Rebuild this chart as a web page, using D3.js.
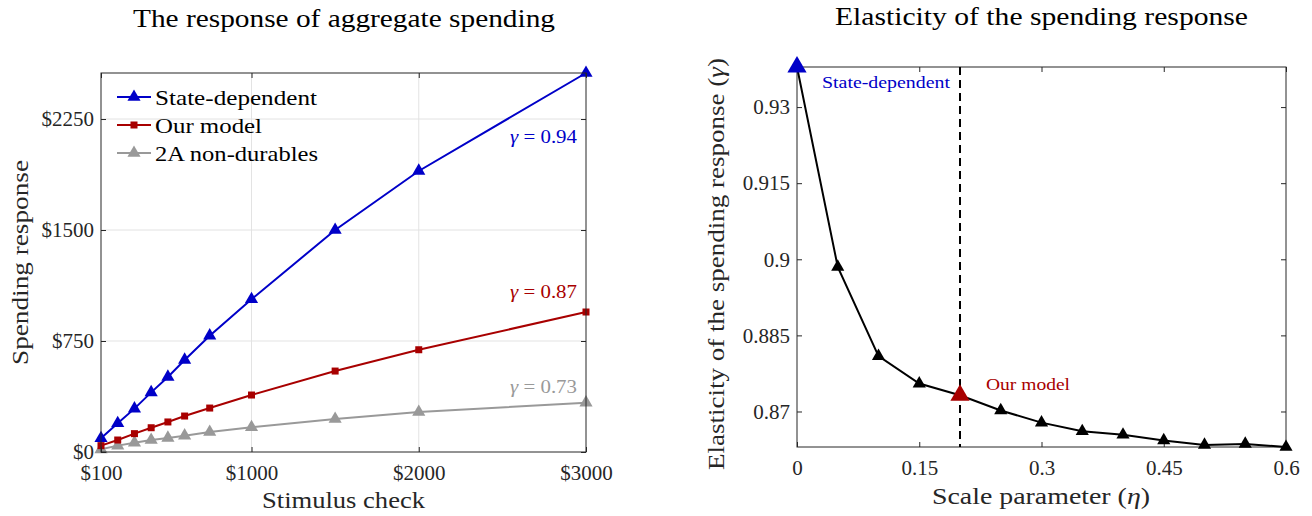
<!DOCTYPE html>
<html>
<head>
<meta charset="utf-8">
<script src="https://cdn.jsdelivr.net/npm/d3@7"></script>
<style>
  body { margin: 0; background: #fff; }
  svg { font-family: "Liberation Serif", "DejaVu Serif", serif; }
</style>
</head>
<body>
<svg width="1312" height="516"></svg>
<script>
// left panel data
var checks = [100, 200, 300, 400, 500, 600, 750, 1000, 1500, 2000, 3000];
var stateDep = [93, 194, 293, 403, 507, 622, 786, 1032, 1500, 1899, 2561];
var ourModel = [43, 81, 124, 164, 203, 243, 297, 385, 547, 691, 946];
var nonDur = [18, 43, 63, 81, 95, 110, 135, 167, 223, 270, 333];
var leftXTicks = [100, 1000, 2000, 3000];
var leftYTicks = [0, 750, 1500, 2250];
var seriesNames = ["State-dependent", "Our model", "2A non-durables"];
var gammaLabels = ["0.94", "0.87", "0.73"];

// right panel data
var eta = [0, 0.05, 0.1, 0.15, 0.2, 0.25, 0.3, 0.35, 0.4, 0.45, 0.5, 0.55, 0.6];
var elasticity = [0.9379, 0.8985, 0.8809, 0.8755, 0.8732, 0.8702, 0.8678, 0.8661, 0.8654, 0.8643, 0.8634, 0.8636, 0.8630];
var rightXTicks = [0, 0.15, 0.3, 0.45, 0.6];
var rightYTicks = [0.87, 0.885, 0.9, 0.915, 0.93];
var ourEta = 0.2;

var svg = d3.select("svg");
var axisColor = "#262626", gridColor = "#e3e3e3";
var blue = "#0000c8", red = "#a80000", gray = "#999999";
var tri = d3.symbol().type(d3.symbolTriangle);

// stretch text to the width it has in the original (wider serif face)
function fit(sel, w) {
    return sel.attr("textLength", w).attr("lengthAdjust", "spacingAndGlyphs");
}

// ---------- left panel ----------
var L = {left: 101, right: 586, top: 73, bottom: 452};
var x = d3.scaleLinear().domain([100, 3000]).range([L.left, L.right]);
var y = d3.scaleLinear().domain([0, d3.max(stateDep)]).range([L.bottom, L.top]);
var gl = svg.append("g");

// grid
gl.selectAll(".vg").data(leftXTicks.slice(1, -1)).enter().append("line")
    .attr("x1", x).attr("x2", x).attr("y1", L.top).attr("y2", L.bottom)
    .attr("stroke", gridColor);
gl.selectAll(".hg").data(leftYTicks.slice(1)).enter().append("line")
    .attr("x1", L.left).attr("x2", L.right).attr("y1", y).attr("y2", y)
    .attr("stroke", gridColor);

function drawBox(g, b) {
    g.append("rect").attr("x", b.left).attr("y", b.top)
        .attr("width", b.right - b.left).attr("height", b.bottom - b.top)
        .attr("fill", "none").attr("stroke", axisColor).attr("stroke-width", 1);
}

function drawAxes(g, b, xs, ys, xt, yt, xfmt, yfmt) {
    var ax = g.append("g").attr("transform", "translate(0," + b.bottom + ")")
        .call(d3.axisBottom(xs).tickValues(xt).tickFormat(xfmt).tickSizeInner(-5).tickSizeOuter(0).tickPadding(13));
    var axTop = g.append("g").attr("transform", "translate(0," + b.top + ")")
        .call(d3.axisTop(xs).tickValues(xt).tickFormat("").tickSizeInner(-5).tickSizeOuter(0));
    var ay = g.append("g").attr("transform", "translate(" + b.left + ",0)")
        .call(d3.axisLeft(ys).tickValues(yt).tickFormat(yfmt).tickSizeInner(-5).tickSizeOuter(0).tickPadding(7));
    var ayR = g.append("g").attr("transform", "translate(" + b.right + ",0)")
        .call(d3.axisRight(ys).tickValues(yt).tickFormat("").tickSizeInner(-5).tickSizeOuter(0));
    [ax, axTop, ay, ayR].forEach(function (a) {
        a.select(".domain").remove();
        a.selectAll("line").attr("stroke", axisColor);
        a.selectAll("text").attr("fill", axisColor)
            .attr("font-family", "Liberation Serif, serif").attr("font-size", 21);
    });
}

function drawSeries(g, xs, ys, xv, yv, color, marker) {
    var line = d3.line().x(function (d, i) { return xs(xv[i]); }).y(function (d) { return ys(d); });
    g.append("path").datum(yv).attr("d", line)
        .attr("fill", "none").attr("stroke", color).attr("stroke-width", 2);
    if (marker === "tri") {
        g.selectAll(null).data(yv).enter().append("path")
            .attr("d", tri.size(75))
            .attr("transform", function (d, i) { return "translate(" + xs(xv[i]) + "," + ys(d) + ")"; })
            .attr("fill", color);
    } else {
        g.selectAll(null).data(yv).enter().append("rect")
            .attr("x", function (d, i) { return xs(xv[i]) - 3.5; })
            .attr("y", function (d) { return ys(d) - 3.5; })
            .attr("width", 7).attr("height", 7)
            .attr("fill", color);
    }
}

drawSeries(gl, x, y, checks, nonDur, gray, "tri");
drawSeries(gl, x, y, checks, ourModel, red, "sq");
drawSeries(gl, x, y, checks, stateDep, blue, "tri");
drawBox(gl, L);
drawAxes(gl, L, x, y, leftXTicks, leftYTicks, function (d) { return "$" + d; }, function (d) { return "$" + d; });

// gamma annotations
var gammaY = [137, 292, 387];
[blue, red, gray].forEach(function (c, i) {
    var t = gl.append("text").attr("x", 510).attr("y", gammaY[i]).attr("dy", "0.35em")
        .attr("fill", c).attr("font-size", 18);
    t.append("tspan").attr("font-style", "italic").text("γ");
    t.append("tspan").text(" = " + gammaLabels[i]);
    fit(t, 67);
});

// legend
var legColors = [blue, red, gray], legMarks = ["tri", "sq", "tri"], legW = [162, 107, 163];
var leg = gl.selectAll(".leg").data(seriesNames).enter().append("g")
    .attr("transform", function (d, i) { return "translate(117," + (97 + i * 28) + ")"; });
leg.append("line").attr("x1", 0).attr("x2", 34).attr("stroke", function (d, i) { return legColors[i]; })
    .attr("stroke-width", 2);
leg.each(function (d, i) {
    var s = d3.select(this);
    if (legMarks[i] === "tri") {
        s.append("path").attr("d", tri.size(75)).attr("transform", "translate(17,0)").attr("fill", legColors[i]);
    } else {
        s.append("rect").attr("x", 13.5).attr("y", -3.5).attr("width", 7).attr("height", 7).attr("fill", legColors[i]);
    }
    fit(s.append("text").attr("x", 38).attr("dy", "0.35em").attr("font-size", 22).attr("fill", "#000").text(d), legW[i]);
});

// titles and labels
fit(gl.append("text").attr("x", 133).attr("y", 18).attr("dy", "0.35em")
    .attr("font-size", 25).text("The response of aggregate spending"), 422);
fit(gl.append("text").attr("x", 262).attr("y", 500).attr("dy", "0.35em")
    .attr("font-size", 24).attr("fill", axisColor).text("Stimulus check"), 163);
fit(gl.append("text").attr("transform", "translate(20,365) rotate(-90)")
    .attr("dy", "0.35em").attr("font-size", 24).attr("fill", axisColor)
    .text("Spending response"), 205);

// ---------- right panel ----------
var R = {left: 797, right: 1286, top: 67, bottom: 447};
var x2 = d3.scaleLinear().domain([0, 0.6]).range([R.left, R.right]);
var y2 = d3.scaleLinear().domain(d3.extent(elasticity)).range([R.bottom, R.top]);
var gr = svg.append("g");

drawBox(gr, R);
drawAxes(gr, R, x2, y2, rightXTicks, rightYTicks, function (d) { return d; }, function (d) { return d; });

// dashed line at our model
gr.append("line").attr("x1", x2(ourEta)).attr("x2", x2(ourEta)).attr("y1", R.top).attr("y2", R.bottom)
    .attr("stroke", "#000").attr("stroke-width", 2).attr("stroke-dasharray", "8,5");

var line2 = d3.line().x(function (d, i) { return x2(eta[i]); }).y(function (d) { return y2(d); });
gr.append("path").datum(elasticity).attr("d", line2)
    .attr("fill", "none").attr("stroke", "#000").attr("stroke-width", 2);
gr.selectAll(".m").data(elasticity).enter().append("path")
    .attr("d", function (d, i) {
        return tri.size(eta[i] === 0 || eta[i] === ourEta ? 160 : 75)();
    })
    .attr("transform", function (d, i) { return "translate(" + x2(eta[i]) + "," + y2(d) + ")"; })
    .attr("fill", function (d, i) { return eta[i] === 0 ? blue : (eta[i] === ourEta ? red : "#000"); });

fit(gr.append("text").attr("x", 822).attr("y", 82).attr("dy", "0.35em").attr("fill", blue)
    .attr("font-size", 17).text("State-dependent"), 128);
fit(gr.append("text").attr("x", 986).attr("y", 384).attr("dy", "0.35em").attr("fill", red)
    .attr("font-size", 17).text("Our model"), 84);

fit(gr.append("text").attr("x", 835).attr("y", 16).attr("dy", "0.35em")
    .attr("font-size", 25).text("Elasticity of the spending response"), 413);
var xl = gr.append("text").attr("x", 932).attr("y", 496).attr("dy", "0.35em")
    .attr("font-size", 24).attr("fill", axisColor);
xl.append("tspan").text("Scale parameter (");
xl.append("tspan").attr("font-style", "italic").text("η");
xl.append("tspan").text(")");
fit(xl, 218);
var yl = gr.append("text").attr("transform", "translate(716,470) rotate(-90)")
    .attr("dy", "0.35em").attr("font-size", 24).attr("fill", axisColor);
yl.append("tspan").text("Elasticity of the spending response (");
yl.append("tspan").attr("font-style", "italic").text("γ");
yl.append("tspan").text(")");
fit(yl, 412);
</script>
</body>
</html>
